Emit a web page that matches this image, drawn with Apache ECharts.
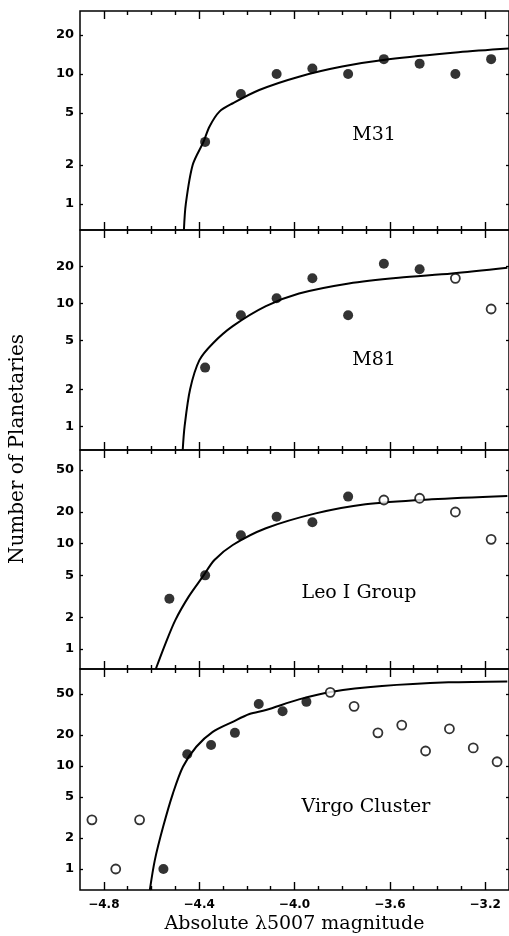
<!DOCTYPE html>
<html>
<head>
<meta charset="utf-8">
<title>Planetary nebula luminosity functions</title>
<script src="https://cdn.jsdelivr.net/npm/echarts@6/dist/echarts.min.js"></script>
<style>
html, body { margin: 0; padding: 0; background: #fff; }
#chart { width: 509px; height: 936px; }
</style>
</head>
<body>
<div id="chart"></div>
<script>
// counts per magnitude bin (filled = used in fit, open = not)
var m31FilledMag = [-4.375, -4.225, -4.075, -3.925, -3.775, -3.625, -3.475, -3.325, -3.175];
var m31FilledNum = [3, 7, 10, 11, 10, 13, 12, 10, 13];
var m31OpenMag = [];
var m31OpenNum = [];
var m31FitMag = [-4.464, -4.456, -4.427, -4.382, -4.357, -4.315, -4.259, -4.148, -3.981, -3.80, -3.605, -3.312, -3.10];
var m31FitNum = [0.63, 1, 2, 3, 3.93, 5.13, 5.95, 7.53, 9.53, 11.4, 12.97, 14.7, 15.7];

var m81FilledMag = [-4.375, -4.225, -4.075, -3.925, -3.775, -3.625, -3.475];
var m81FilledNum = [3, 8, 11, 16, 8, 21, 19];
var m81OpenMag = [-3.325, -3.175];
var m81OpenNum = [16, 9];
var m81FitMag = [-4.469, -4.461, -4.438, -4.399, -4.343, -4.259, -4.12, -3.981, -3.772, -3.563, -3.34, -3.107];
var m81FitNum = [0.64, 1, 2, 3.45, 4.72, 6.53, 9.5, 12.05, 14.55, 16.2, 17.5, 19.5];

var leoFilledMag = [-4.525, -4.375, -4.225, -4.075, -3.925, -3.775];
var leoFilledNum = [3, 5, 12, 18, 16, 28];
var leoOpenMag = [-3.625, -3.475, -3.325, -3.175];
var leoOpenNum = [26, 27, 20, 11];
var leoFitMag = [-4.582, -4.541, -4.5, -4.444, -4.385, -4.336, -4.259, -4.12, -3.911, -3.702, -3.424, -3.107];
var leoFitNum = [0.645, 1.13, 1.88, 3.14, 4.86, 7.0, 9.72, 14, 19.4, 23.7, 26.4, 28.4];

var virgoFilledMag = [-4.55, -4.45, -4.35, -4.25, -4.15, -4.05, -3.95];
var virgoFilledNum = [1, 13, 16, 21, 40, 34, 42];
var virgoOpenMag = [-4.85, -4.75, -4.65, -3.85, -3.75, -3.65, -3.55, -3.45, -3.35, -3.25, -3.15];
var virgoOpenNum = [3, 1, 3, 52, 38, 21, 25, 14, 23, 15, 11];
var virgoFitMag = [-4.607, -4.586, -4.551, -4.51, -4.468, -4.412, -4.343, -4.259, -4.189, -4.12, -3.981, -3.842, -3.633, -3.354, -3.107];
var virgoFitNum = [0.625, 1.22, 2.58, 5.43, 9.85, 15.4, 21.5, 26.9, 32, 35, 44.4, 52.7, 59.8, 65, 66.4];

var panelNames = ['M31', 'M81', 'Leo I Group', 'Virgo Cluster'];
var yMin = [0.63, 0.64, 0.645, 0.625];
var yMax = [30.5, 39.6, 77.6, 87.6];
var yTicks = [[1, 2, 5, 10, 20], [1, 2, 5, 10, 20], [1, 2, 5, 10, 20, 50], [1, 2, 5, 10, 20, 50]];
var xMajor = [-4.8, -4.4, -4.0, -3.6, -3.2];
// short ticks, split in sets 0.4 apart so none is dropped as too dense
var xMinorSets = [
  [-4.7, -4.3, -3.9, -3.5],
  [-4.6, -4.2, -3.8, -3.4],
  [-4.5, -4.1, -3.7, -3.3]
];

var panels = [
  {filled: [m31FilledMag, m31FilledNum], open: [m31OpenMag, m31OpenNum], fit: [m31FitMag, m31FitNum]},
  {filled: [m81FilledMag, m81FilledNum], open: [m81OpenMag, m81OpenNum], fit: [m81FitMag, m81FitNum]},
  {filled: [leoFilledMag, leoFilledNum], open: [leoOpenMag, leoOpenNum], fit: [leoFitMag, leoFitNum]},
  {filled: [virgoFilledMag, virgoFilledNum], open: [virgoOpenMag, virgoOpenNum], fit: [virgoFitMag, virgoFitNum]}
];

// layout (pixels)
var gridTop = [11, 230, 450, 669];
var gridH = [219, 220, 219, 221];
var labelPos = [[374, 135], [374, 360], [359, 593], [366, 807]];

function pairs(a) {
  return a[0].map(function (m, i) { return [m, a[1][i]]; });
}

var lineCol = '#000';
var grids = [], xAxes = [], yAxes = [], series = [], graphics = [];

function xAxis(gi, pos, ticks, len) {
  return {
    type: 'value', gridIndex: gi, position: pos, min: -4.9, max: -3.1,
    splitLine: {show: false}, axisLine: {show: false, onZero: false},
    axisLabel: {show: false, interval: 0},
    axisTick: {show: true, inside: true, interval: 0, length: len, customValues: ticks,
      lineStyle: {color: lineCol, width: 1.4}}
  };
}

panels.forEach(function (p, g) {
  var last = g === panels.length - 1;
  var rect = {left: 80, top: gridTop[g], width: 431, height: gridH[g]};

  // main grid: frame, long ticks, labels and data
  var gMain = grids.length;
  grids.push(Object.assign({show: true, borderColor: lineCol, borderWidth: 1.5, backgroundColor: 'transparent'}, rect));
  var xi = xAxes.length;
  var xb = xAxis(gMain, 'bottom', xMajor, 8);
  if (last) {
    xb.axisLabel = {
      show: true, interval: 0, customValues: xMajor, margin: 9,
      color: '#000', fontFamily: 'DejaVu Sans', fontWeight: 'bold', fontSize: 12,
      formatter: function (v) { return '\u2212' + Math.abs(v).toFixed(1); }
    };
    xb.name = 'Absolute \u03bb5007 magnitude';
    xb.nameLocation = 'middle';
    xb.nameGap = 25;
    xb.nameTextStyle = {color: '#000', fontFamily: 'DejaVu Serif', fontSize: 19};
  }
  xAxes.push(xb);
  xAxes.push(xAxis(gMain, 'top', xMajor, 8));

  var yi = yAxes.length;
  ['left', 'right'].forEach(function (pos) {
    yAxes.push({
      type: 'log', gridIndex: gMain, position: pos, min: yMin[g], max: yMax[g],
      splitLine: {show: false},
      axisLine: {show: false, onZero: false},
      axisTick: {show: true, inside: true, interval: 0, length: 3, customValues: yTicks[g], lineStyle: {color: lineCol, width: 1.3}},
      axisLabel: pos === 'left' ? {
        customValues: yTicks[g], interval: 0, margin: 6, color: '#000',
        fontFamily: 'DejaVu Sans', fontWeight: 'bold', fontSize: 13,
        formatter: function (v) { return String(Math.round(v)); }
      } : {show: false}
    });
  });

  // overlay grids, one per set of short ticks
  xMinorSets.forEach(function (set) {
    var gi = grids.length;
    grids.push(Object.assign({show: false}, rect));
    xAxes.push(xAxis(gi, 'bottom', set, 4));
    xAxes.push(xAxis(gi, 'top', set, 4));
    yAxes.push({type: 'log', gridIndex: gi, min: yMin[g], max: yMax[g], show: false});
  });

  series.push({
    type: 'line', xAxisIndex: xi, yAxisIndex: yi, data: pairs(p.fit),
    showSymbol: false, smooth: 0.3, clip: true,
    lineStyle: {color: '#000', width: 2}, silent: true, z: 2
  });
  series.push({
    type: 'scatter', xAxisIndex: xi, yAxisIndex: yi, data: pairs(p.filled),
    symbol: 'circle', symbolSize: 10, itemStyle: {color: '#000'}, z: 3
  });
  series.push({
    type: 'scatter', xAxisIndex: xi, yAxisIndex: yi, data: pairs(p.open),
    symbol: 'circle', symbolSize: 9, itemStyle: {color: '#fff', borderColor: '#000', borderWidth: 1.8}, z: 3
  });

  graphics.push({
    type: 'text', x: labelPos[g][0], y: labelPos[g][1],
    style: {text: panelNames[g], fill: '#000', font: '19px "DejaVu Serif"', textAlign: 'center', textVerticalAlign: 'middle'}
  });
});

graphics.push({
  type: 'text', x: 18, y: 449, rotation: Math.PI / 2,
  style: {text: 'Number of Planetaries', fill: '#000', font: '20px "DejaVu Serif"', textAlign: 'center', textVerticalAlign: 'middle'}
});

var chart = echarts.init(document.getElementById('chart'));
chart.setOption({
  backgroundColor: '#fff',
  animation: false,
  grid: grids,
  xAxis: xAxes,
  yAxis: yAxes,
  series: series,
  graphic: graphics
});
</script>
</body>
</html>
